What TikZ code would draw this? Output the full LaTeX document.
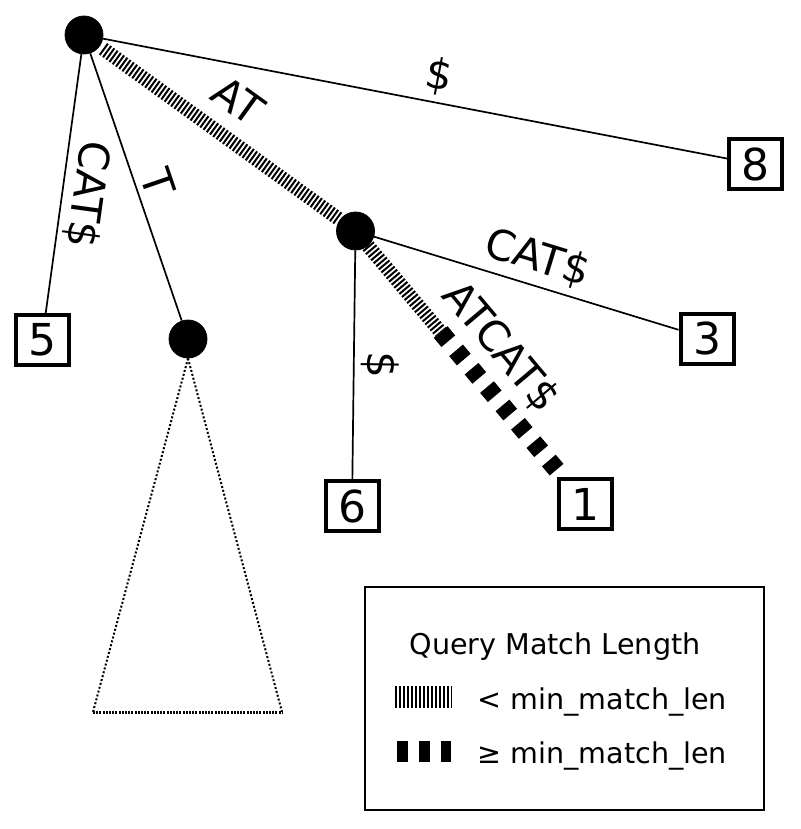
\documentclass[tikz,border=0pt]{standalone}
\usepackage{fontspec}
\setmainfont{DejaVu Sans}
\usetikzlibrary{calc}
\tikzset{
    branch/.style = {
        draw,
        fill,
        shape=circle,
        minimum size=19pt,
        inner sep=0pt
    },
    leaf/.style = {
        draw,
        shape=rectangle,
        minimum width=26.5pt,
        minimum height=25pt,
        inner sep=0pt,
        line width=2pt,
        font=\fontsize{22pt}{26pt}\selectfont
    },
    link/.style = {
        draw,
        line width=0.85pt
    },
    fine/.style = {
        draw,
        line width=7pt,
        dash pattern=on 1pt off 1pt
    },
    coarse/.style = {
        draw,
        line width=9pt,
        dash pattern=on 6pt off 6pt
    },
    subtree/.style = {
        draw,
        line width=1pt,
        dash pattern=on 1pt off 1pt
    },
    lbl/.style = {
        font=\fontsize{21pt}{25pt}\selectfont,
        sloped,
        allow upside down
    },
    keytext/.style = {
        font=\fontsize{14.3pt}{17pt}\selectfont,
        inner sep=0pt
    },
}

\begin{document}
\begin{tikzpicture}[x=0.5pt,y=-0.5pt]
        \useasboundingbox (0,0) rectangle (800,829);

        \node[branch] (root) at (84,35) {};
        \node[branch] (inner) at (355.5,231) {};
        \node[branch] (tnode) at (188,339) {};

        \node[leaf] (leaf8) at (755.5,164) {8};
        \node[leaf] (leaf3) at (707,338.5) {3};
        \node[leaf] (leaf5) at (42,340) {5};
        \node[leaf] (leaf6) at (352,506) {6};
        \node[leaf] (leaf1) at (585.5,504) {1};

        \path[link] (root) -- node[lbl, pos=0.53, above] {\$} (leaf8);
        \path[link] (root) -- node[lbl, pos=0.53, above=-1pt] {CAT\$} (leaf5);
        \path[link] (root) -- node[lbl, pos=0.51, above] {T} (tnode);
        \path[fine] ($(root)!0.07!(inner)$) -- node[lbl, pos=0.48, above=4pt] {AT} ($(root)!0.94!(inner)$);

        \path[link] (inner) -- node[lbl, pos=0.51, above] {CAT\$} (leaf3);
        \path[link] (inner) -- node[lbl, pos=0.5, above] {\$} (leaf6);

        % matched part first, then the rest
        \coordinate (split) at ($(inner)!0.37!(leaf1)$);
        \path[fine] (inner) -- (split);
        \path[coarse] (split) -- (leaf1);
        \path (inner) -- node[lbl, pos=0.54, above=5pt] {ATCAT\$} (leaf1);

        % collapsed subtree
        \coordinate (baseleft) at (93,712);
        \coordinate (baseright) at (282,712);
        \path[subtree] (tnode.south) -- (baseleft);
        \path[subtree] (tnode.south) -- (baseright);
        \path[subtree, line width=1.5pt, dash pattern=on 1pt off 0.6pt] (baseleft) -- (baseright);

        % legend
        \node[draw, line width=1pt, minimum width=199.5pt, minimum height=111.5pt] (legend) at (564.5,698.5) {};
        \node[keytext, anchor=base] (title) at (555,654) {Query Match Length};
        \coordinate (fineA) at (395,697);
        \coordinate (fineB) at (452,697);
        \coordinate (coarseA) at (397,751.5);
        \coordinate (coarseB) at (451,751.5);
        \path[fine, line width=11pt] (fineA) -- (fineB);
        \path[coarse, line width=10.5pt, dash pattern=on 5.5pt off 5.5pt] (coarseA) -- (coarseB);
        \node[keytext, anchor=base west] (below) at (477,709) {< min\_match\_len};
        \node[keytext, anchor=base west] (above) at (477,763) {≥ min\_match\_len};
    \end{tikzpicture}
\end{document}
